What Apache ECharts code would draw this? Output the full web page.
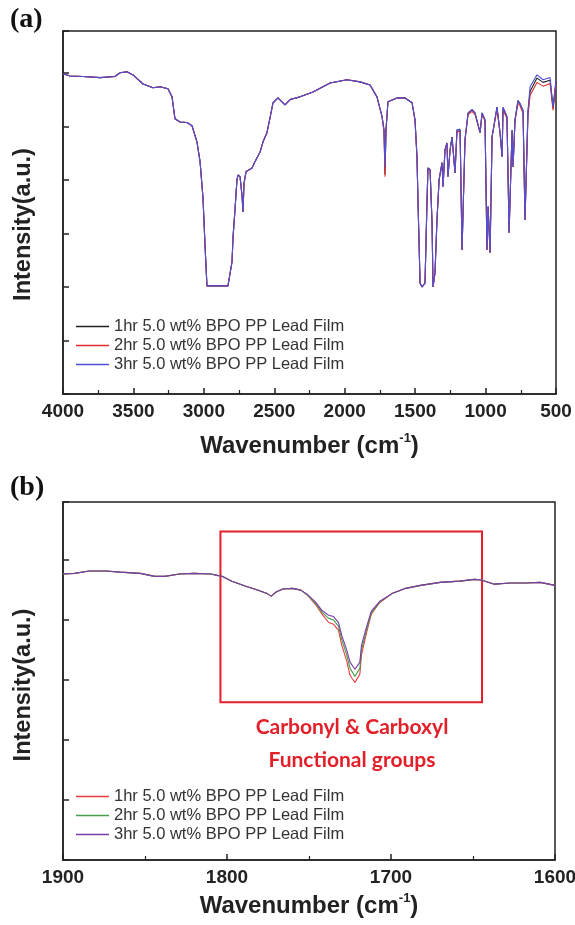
<!DOCTYPE html>
<html>
<head>
<meta charset="utf-8">
<script src="https://cdn.jsdelivr.net/npm/echarts@6/dist/echarts.min.js"></script>
<style>
html,body{margin:0;padding:0;background:#fff;}
#chart{width:575px;height:925px;}
</style>
</head>
<body>
<div id="chart"></div>
<script>
// ---------- Panel (a): full spectrum ----------
const wnA = [
4000,3950,3858,3737,3631,3595,3546,3503,3432,3361,
3311,3255,3226,3205,3169,3120,3084,3049,3027,3006,
2992,2978,2829,2800,2793,2779,2765,2758,2743,2729,
2722,2715,2701,2658,2637,2601,2580,2552,2530,2509,
2474,2424,2388,2317,2225,2104,1984,1891,1820,1771,
1735,1721,1714,1707,1693,1629,1572,1522,1501,1487,
1480,1465,1451,1430,1416,1409,1394,1380,1373,1359,
1345,1330,1309,1302,1288,1274,1267,1252,1238,1217,
1203,1181,1167,1146,1124,1096,1075,1039,1025,1004,
990,982,968,954,919,897,883,876,848,833,
812,805,791,770,755,734,720,699,684,635,
592,542,521,500];
const blackA = [
59.8,59.4,59.3,59.1,59.3,60.0,60.2,59.6,57.9,57.2,
57.4,57.0,55.5,51.4,50.8,50.7,50.1,47.1,43.4,36.6,
27.9,20.2,20.2,24.7,29.2,34.4,40.0,40.9,40.6,37.0,
34.0,39.3,41.5,42.2,43.4,45.2,47.1,48.8,51.6,54.4,
55.3,54.0,55.0,55.5,56.4,58.1,58.7,58.3,57.7,55.5,
51.8,49.3,41.0,49.3,54.6,55.3,55.3,54.4,51.2,44.3,
36.3,20.7,20.0,20.7,35.7,42.2,41.9,32.0,20.0,22.6,
32.5,40.0,43.2,38.7,45.6,46.9,40.6,45.6,48.0,41.3,
49.3,49.3,26.9,47.5,52.5,53.1,52.5,48.8,52.5,51.2,
26.9,35.0,26.4,48.0,53.6,48.8,44.3,53.5,51.8,30.1,
49.3,42.4,51.2,54.8,54.2,52.9,32.5,52.6,56.5,59.0,
58.2,58.6,53.4,58.3];
const redA = [
59.8,59.4,59.3,59.1,59.3,60.0,60.2,59.6,57.9,57.2,
57.4,57.0,55.5,51.4,50.8,50.7,50.1,47.1,43.4,36.6,
27.9,20.2,20.2,24.7,29.2,34.4,40.0,40.9,40.6,37.0,
34.0,39.3,41.5,42.2,43.4,45.2,47.1,48.8,51.6,54.4,
55.3,54.0,55.0,55.5,56.4,58.1,58.7,58.3,57.7,55.5,
51.8,49.0,40.6,49.0,54.6,55.3,55.3,54.4,51.2,44.3,
36.3,20.7,20.0,20.7,35.7,42.2,41.9,32.0,20.0,22.6,
32.5,40.0,43.2,38.7,45.6,46.9,40.6,45.6,48.0,41.3,
49.0,49.0,26.9,47.5,52.2,52.8,52.2,48.8,52.2,51.0,
26.9,35.0,26.4,48.0,53.2,48.6,44.3,53.0,51.5,30.1,
49.0,42.4,51.0,54.3,53.8,52.5,32.5,52.0,55.8,58.2,
57.5,58.0,53.0,58.0];
const blueA = [
59.8,59.4,59.3,59.1,59.3,60.0,60.2,59.6,57.9,57.2,
57.4,57.0,55.5,51.4,50.8,50.7,50.1,47.1,43.4,36.6,
27.9,20.2,20.2,24.7,29.2,34.4,40.0,40.9,40.6,37.0,
34.0,39.3,41.5,42.2,43.4,45.2,47.1,48.8,51.6,54.4,
55.3,54.0,55.0,55.5,56.4,58.1,58.7,58.3,57.7,55.5,
51.8,49.3,42.4,49.3,54.6,55.3,55.3,54.4,51.2,44.3,
36.3,20.7,20.0,20.7,35.7,42.2,41.9,32.0,20.0,22.6,
32.5,40.0,43.2,38.7,45.6,46.9,40.6,45.6,48.0,41.3,
49.3,49.5,26.9,47.5,52.5,53.1,52.5,48.8,52.5,51.2,
26.9,35.0,26.4,48.0,53.6,48.8,44.3,53.5,51.8,30.1,
49.3,42.4,51.2,54.8,54.2,52.9,32.5,52.9,57.4,59.6,
58.7,59.1,53.6,58.7];

// ---------- Panel (b): carbonyl region ----------
const wnB = [
1900,1893,1884,1874,1865,1853,1844,1838,1829,1820,
1810,1803,1797,1789,1781,1776,1773,1770,1766,1760,
1755,1751,1746,1742,1738,1735,1732,1730,1727,1725,
1722,1721,1719,1718,1715,1712,1707,1699,1691,1682,
1670,1658,1649,1645,1637,1627,1618,1609,1600];
const hr1B = [
47.7,47.8,48.2,48.2,48.0,47.8,47.3,47.3,47.7,47.8,
47.7,47.3,46.5,45.7,45.0,44.5,44.0,44.7,45.2,45.3,
45.0,44.2,42.6,41.0,39.6,39.3,38.3,35.8,33.2,30.8,
29.6,29.6,31.0,34.2,37.8,41.0,42.9,44.5,45.3,45.8,
46.3,46.5,46.8,46.7,46.0,46.2,46.2,46.3,45.8];
const hr2B = [
47.7,47.8,48.2,48.2,48.0,47.8,47.3,47.3,47.7,47.8,
47.7,47.3,46.5,45.7,45.0,44.5,44.0,44.7,45.2,45.3,
45.0,44.2,42.8,41.3,40.3,40.0,39.0,36.7,34.2,32.0,
30.6,30.6,32.0,35.0,38.3,41.2,43.0,44.5,45.3,45.8,
46.3,46.5,46.8,46.7,46.0,46.2,46.2,46.3,45.8];
const hr3B = [
47.7,47.8,48.2,48.2,48.0,47.8,47.3,47.3,47.7,47.8,
47.7,47.3,46.5,45.7,45.0,44.5,44.0,44.7,45.2,45.3,
45.0,44.3,43.0,41.6,40.8,40.6,39.6,37.4,35.0,33.0,
31.8,31.8,33.0,35.8,38.8,41.5,43.1,44.5,45.3,45.8,
46.3,46.5,46.8,46.7,46.0,46.2,46.2,46.3,45.8];

// tick labels and texts
const ticksA = ['4000','3500','3000','2500','2000','1500','1000','500'];
const ticksB = ['1900','1800','1700','1600'];
const namesA = ['1hr 5.0 wt% BPO PP Lead Film','2hr 5.0 wt% BPO PP Lead Film','3hr 5.0 wt% BPO PP Lead Film'];
const namesB = ['1hr 5.0 wt% BPO PP Lead Film','2hr 5.0 wt% BPO PP Lead Film','3hr 5.0 wt% BPO PP Lead Film'];
// highlighted region in panel (b) (wavenumber, intensity corners)
const boxB = [[1804, 54.8],[1644.5, 26.3]];

const pair = (xs, ys) => xs.map((x, i) => [x, ys[i]]);
const AX = '#222';
const sans = 'Liberation Sans, Arial, sans-serif';

function xAxisCfg(grid, min, max, interval, gap) {
  return {
    gridIndex: grid, type: 'value', min, max, interval, inverse: true,
    axisLine: {show: true, lineStyle: {color: AX, width: 1.5}},
    axisTick: {show: true, inside: true, length: 6, lineStyle: {color: AX, width: 1.5}},
    minorTick: {show: true, splitNumber: 2, length: 4, lineStyle: {color: AX, width: 1.2}},
    splitLine: {show: false},
    axisLabel: {fontFamily: sans, fontWeight: 'bold', fontSize: 19, color: AX, margin: 8,
      hideOverlap: false, formatter: v => String(v)},
    name: 'Wavenumber (cm{s|-1})', nameLocation: 'middle', nameGap: gap,
    nameTextStyle: {fontFamily: sans, fontWeight: 'bold', fontSize: 24, color: AX,
      rich: {s: {fontFamily: sans, fontWeight: 'bold', fontSize: 13, color: AX, verticalAlign: 'top', lineHeight: 28}}}
  };
}
function yAxisCfg(grid, max, pad) {
  return {
    gridIndex: grid, type: 'value', min: 0, max, interval: 10,
    axisLine: {show: true, lineStyle: {color: AX, width: 1.5}},
    axisTick: {show: true, inside: true, length: 6, lineStyle: {color: AX, width: 1.5}},
    axisLabel: {show: false}, splitLine: {show: false},
    name: 'Intensity(a.u.)', nameLocation: 'middle', nameRotate: 90, nameGap: 27,
    nameTextStyle: {fontFamily: sans, fontWeight: 'bold', fontSize: 23.5, color: AX, padding: [0, pad, 0, 0]}
  };
}
function lineSeries(name, xi, data, color) {
  return {name, type: 'line', xAxisIndex: xi, yAxisIndex: xi, data, showSymbol: false, symbol: 'none',
    lineStyle: {color, width: 1.1}, itemStyle: {color}, animation: false, z: 3};
}

const cA = ['#222222', '#e02a2a', '#4f4fd9'];
const cB = ['#ee3b3b', '#44a04a', '#7a3aa8'];

function legendCfg(names, top, colors) {
  return {data: names.map((n, i) => ({name: n, icon: 'rect', itemStyle: {color: colors[i]}})),
    orient: 'vertical', left: 71, top,
    itemWidth: 33, itemHeight: 1.5, itemGap: 2,
    textStyle: {fontFamily: sans, fontSize: 16.5, color: '#333', lineHeight: 17}};
}

const option = {
  animation: false,
  backgroundColor: '#ffffff',
  grid: [
    {left: 63, right: 19, top: 31, height: 363, show: true, borderColor: AX, borderWidth: 1.5,
      backgroundColor: 'transparent', outerBoundsMode: 'none', containLabel: false},
    {left: 63, right: 20, top: 502, height: 358, show: true, borderColor: AX, borderWidth: 1.5,
      backgroundColor: 'transparent', outerBoundsMode: 'none', containLabel: false}
  ],
  xAxis: [xAxisCfg(0, 500, 4000, 500, 38), xAxisCfg(1, 1600, 1900, 100, 32)],
  yAxis: [yAxisCfg(0, 67.8, 24), yAxisCfg(1, 59.7, 8)],
  legend: [
    legendCfg(namesA, 313, cA),
    legendCfg(namesB.map(n => n + ' '), 783, cB)
  ],
  series: [
    lineSeries(namesA[0], 0, pair(wnA, blackA), cA[0]),
    lineSeries(namesA[1], 0, pair(wnA, redA), cA[1]),
    lineSeries(namesA[2], 0, pair(wnA, blueA), cA[2]),
    lineSeries(namesB[0] + ' ', 1, pair(wnB, hr1B), cB[0]),
    lineSeries(namesB[1] + ' ', 1, pair(wnB, hr2B), cB[1]),
    Object.assign(lineSeries(namesB[2] + ' ', 1, pair(wnB, hr3B), cB[2]), {
      markArea: {silent: true,
        itemStyle: {color: 'rgba(0,0,0,0)', borderColor: '#e3202a', borderWidth: 2},
        data: [[{coord: boxB[0]}, {coord: boxB[1]}]]}
    })
  ],
  graphic: [
    {type: 'text', x: 10, y: 6, style: {text: '(a)', font: 'bold 28px "Liberation Serif", "Times New Roman", serif', fill: '#111'}},
    {type: 'text', x: 10, y: 474, style: {text: '(b)', font: 'bold 28px "Liberation Serif", "Times New Roman", serif', fill: '#111'}},
    {type: 'text', x: 352, y: 727, style: {text: 'Carbonyl & Carboxyl', font: 'bold 21px Lato, "Open Sans", sans-serif', fill: '#e3202a', align: 'center', verticalAlign: 'middle'}},
    {type: 'text', x: 352, y: 760, style: {text: 'Functional groups', font: 'bold 21px Lato, "Open Sans", sans-serif', fill: '#e3202a', align: 'center', verticalAlign: 'middle'}}
  ]
};

const chart = echarts.init(document.getElementById('chart'), null, {renderer: 'canvas'});
chart.setOption(option);
</script>
</body>
</html>
